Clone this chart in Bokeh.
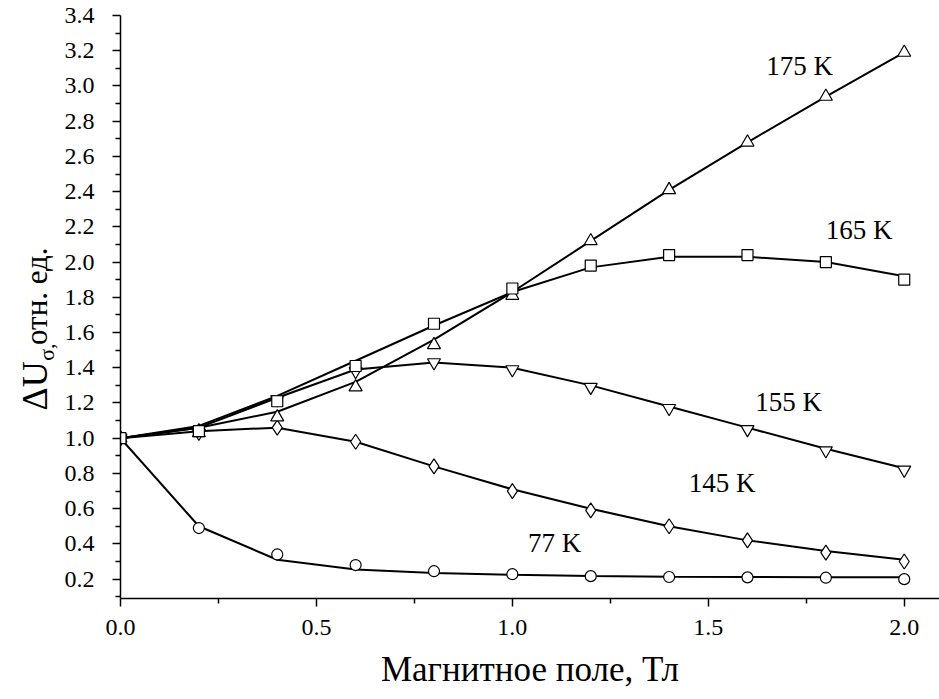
import math
from bokeh.plotting import figure
from bokeh.layouts import row
from bokeh.models import Range1d, FixedTicker
from bokeh.core.properties import value
from bokeh.embed import file_html
from bokeh.resources import INLINE

# ---- data ----
field = [0.0, 0.2, 0.4, 0.6, 0.8, 1.0, 1.2, 1.4, 1.6, 1.8, 2.0]

pts_175 = [1.00, 1.03, 1.12, 1.29, 1.53, 1.81, 2.12, 2.41, 2.68, 2.94, 3.19]
pts_165 = [1.00, 1.04, 1.21, 1.41, 1.65, 1.85, 1.98, 2.04, 2.04, 2.00, 1.90]
pts_155 = [1.00, 1.03, 1.22, 1.38, 1.43, 1.39, 1.29, 1.17, 1.05, 0.93, 0.82]
pts_145 = [1.00, 1.04, 1.06, 0.98, 0.84, 0.70, 0.59, 0.50, 0.42, 0.35, 0.30]
pts_77 = [1.00, 0.49, 0.34, 0.28, 0.245, 0.228, 0.217, 0.212, 0.21, 0.208, 0.20]

fit_175 = [1.00, 1.06, 1.15, 1.32, 1.56, 1.83, 2.12, 2.41, 2.68, 2.94, 3.19]
fit_165 = [1.00, 1.07, 1.24, 1.44, 1.64, 1.83, 1.97, 2.03, 2.03, 2.00, 1.92]
fit_155 = [1.00, 1.06, 1.23, 1.39, 1.43, 1.40, 1.30, 1.18, 1.06, 0.94, 0.83]
fit_145 = [1.00, 1.04, 1.06, 0.98, 0.84, 0.71, 0.60, 0.50, 0.42, 0.36, 0.31]
fit_77 = [1.00, 0.50, 0.31, 0.255, 0.235, 0.225, 0.218, 0.214, 0.212, 0.211, 0.21]

series_labels = ["175 K", "165 K", "155 K", "145 K", "77 K"]
label_x = [1.648, 1.80, 1.62, 1.45, 1.04]
label_y = [3.115, 2.18, 1.204, 0.744, 0.403]

x_ticks = [0.0, 0.5, 1.0, 1.5, 2.0]
y_ticks = [0.2, 0.4, 0.6, 0.8, 1.0, 1.2, 1.4, 1.6, 1.8, 2.0, 2.2, 2.4, 2.6, 2.8, 3.0, 3.2, 3.4]

y_title_parts = ["ΔU", "σ,", " отн. ед."]

FONT = "Liberation Serif"
W, H = 939, 699
TITLE_W = 60
FRAME_TOP, FRAME_BOTTOM = 15, 598

# ---- main plot ----
p = figure(width=W - TITLE_W, height=H, output_backend="svg", toolbar_location=None,
           x_range=Range1d(0, 2.09), y_range=Range1d(0.09, 3.4),
           min_border_left=120 - TITLE_W, min_border_right=0, min_border_top=FRAME_TOP,
           min_border_bottom=H - FRAME_BOTTOM)
p.outline_line_color = None
p.grid.visible = False
p.background_fill_color = "white"
p.border_fill_color = "white"

for ax in (p.xaxis[0], p.yaxis[0]):
    ax.axis_line_width = 1.5
    ax.axis_line_color = "black"
    ax.major_tick_line_width = 1.5
    ax.minor_tick_line_width = 1.5
    ax.major_tick_line_color = "black"
    ax.minor_tick_line_color = "black"
    ax.major_tick_out = 8
    ax.major_tick_in = 0
    ax.minor_tick_out = 5
    ax.minor_tick_in = 0
    ax.major_label_text_font = FONT
    ax.major_label_text_font_size = "24px"
    ax.major_label_text_color = "black"
    ax.axis_label_text_font = FONT
    ax.axis_label_text_font_style = "normal"
    ax.axis_label_text_font_size = "35px"
    ax.axis_label_text_color = "black"

p.xaxis.ticker = FixedTicker(ticks=x_ticks, minor_ticks=[0.25, 0.75, 1.25, 1.75])
p.yaxis.ticker = FixedTicker(ticks=y_ticks, minor_ticks=[0.1 + 0.2 * i for i in range(17)])
p.xaxis.major_label_overrides = {t: f"{t:.1f}" for t in x_ticks}
p.yaxis.major_label_overrides = {t: f"{t:.1f}" for t in y_ticks}
p.xaxis.major_label_standoff = 13
p.yaxis.major_label_standoff = 18
p.xaxis.axis_label = "Магнитное поле, Тл"
p.xaxis.axis_label_standoff = 12

# fitted curves
for fit in (fit_175, fit_165, fit_155, fit_145, fit_77):
    p.line(field, fit, line_color="black", line_width=2)

# data markers
mk = dict(line_color="black", fill_color="white", line_width=1.2)
p.scatter(field, pts_77, marker="circle", size=11, **mk)
p.scatter(field, pts_145, marker="diamond", size=15, **mk)
p.scatter(field, pts_155, marker="inverted_triangle", size=13, **mk)
p.scatter(field, pts_175, marker="triangle", size=13, **mk)
p.scatter(field, pts_165, marker="square", size=11, **mk)

p.text(label_x, label_y, text=series_labels, text_font=value(FONT),
       text_font_size="27px", text_color="black",
       text_baseline="middle", text_align="left")

# ---- narrow strip holding the rotated y-axis title (pixel coordinates) ----
t = figure(width=TITLE_W, height=H, output_backend="svg", toolbar_location=None,
           x_range=Range1d(0, TITLE_W), y_range=Range1d(H - FRAME_BOTTOM, H - FRAME_TOP),
           x_axis_location=None, y_axis_location=None,
           min_border=0, min_border_left=0, min_border_right=0,
           min_border_top=FRAME_TOP, min_border_bottom=H - FRAME_BOTTOM)
t.outline_line_color = None
t.grid.visible = False
t.border_fill_color = "white"
t.background_fill_color = "white"

ang = math.pi / 2
f_du, f_sig, f_rest = 36, 22, 31
start = 410                 # px from top where the title begins
w_du = 1.38 * f_du
w_sig = 0.72 * f_sig
baseline = 46               # baseline of the rotated title (px from left)
txt_kw = dict(angle=ang, text_font=value(FONT), text_color="black",
              text_baseline="middle", text_align="left")
t.text([baseline - 0.33 * f_du], [H - start], text=[y_title_parts[0]],
       text_font_size=f"{f_du}px", **txt_kw)
t.text([baseline - 0.33 * f_sig + 7], [H - (start - w_du)], text=[y_title_parts[1]],
       text_font_size=f"{f_sig}px", **txt_kw)
t.text([baseline - 0.33 * f_rest], [H - (start - w_du - w_sig)], text=[y_title_parts[2]],
       text_font_size=f"{f_rest}px", **txt_kw)

layout = row(t, p, spacing=0)
open("out.html", "w").write(file_html(layout, INLINE))
